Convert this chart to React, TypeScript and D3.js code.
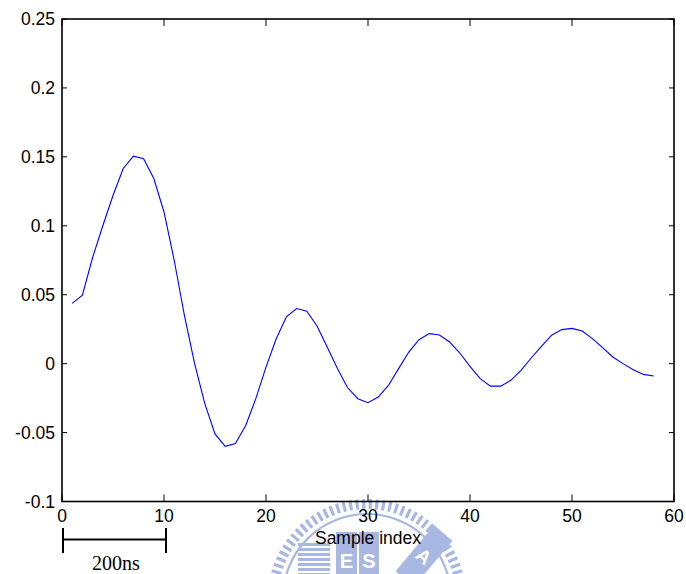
import React from "react";
import * as d3 from "d3";

// Sampled impulse response (sample index 1..58)
const sampleIndex: number[] = Array.from({ length: 58 }, (_, i) => i + 1);
const amplitude: number[] = [
  0.0437, 0.0496, 0.077, 0.1, 0.122, 0.1416, 0.1505, 0.1486, 0.1343, 0.11,
  0.075, 0.035, 0.0, -0.029, -0.051, -0.06, -0.058, -0.045, -0.0254, -0.0025,
  0.018, 0.034, 0.04, 0.038, 0.0273, 0.012, -0.0036, -0.0175, -0.0254, -0.0283,
  -0.0242, -0.0158, -0.0036, 0.0084, 0.0174, 0.0218, 0.0208, 0.0157, 0.0077, -0.002,
  -0.0109, -0.0163, -0.0163, -0.0121, -0.0049, 0.0041, 0.0126, 0.0206, 0.0247, 0.0256,
  0.0237, 0.0182, 0.0116, 0.0048, 0.0, -0.0044, -0.0078, -0.009,
];

const xTicks: number[] = [0, 10, 20, 30, 40, 50, 60];
const yTicks: number[] = [-0.1, -0.05, 0, 0.05, 0.1, 0.15, 0.2, 0.25];
const xLabel = "Sample index";
const scaleBarLabel = "200ns";
const scaleBarSpan: number[] = [0, 10];

const W = 686;
const H = 574;
const left = 62;
const right = 674;
const top = 19;
const bottom = 501.5;

const sans = "'Liberation Sans', Arial, Helvetica, sans-serif";
const serif = "'Liberation Serif', 'Times New Roman', serif";
const wm = "#a9b8e3";

function Watermark() {
  const cx = 367;
  const cy = 598;
  const dashes = d3.range(-90, 91, 4);
  const stripes = d3.range(0, 7);
  return (
    <g>
      {dashes.map((a) => (
        <rect
          key={a}
          x={cx - 1.6}
          y={cy - 99}
          width={3.2}
          height={10}
          fill={wm}
          transform={`rotate(${a} ${cx} ${cy})`}
        />
      ))}
      <circle cx={cx} cy={cy} r={84} fill="none" stroke={wm} strokeWidth={2.2} />
      {stripes.map((s) => (
        <rect key={s} x={298} y={543 + s * 5} width={32} height={3} fill={wm} />
      ))}
      <rect x={336} y={532} width={21} height={45} fill={wm} />
      <rect x={359} y={532} width={20} height={45} fill={wm} />
      <text x={346.5} y={568} textAnchor="middle" fontFamily={sans} fontWeight="bold" fontSize={20} fill="#fff">E</text>
      <text x={369} y={568} textAnchor="middle" fontFamily={sans} fontWeight="bold" fontSize={20} fill="#fff">S</text>
      <g transform="translate(424 556) rotate(40)">
        <rect x={-12} y={-30} width={24} height={60} fill={wm} />
        <text x={0} y={7} textAnchor="middle" fontFamily={sans} fontWeight="bold" fontSize={19} fill="#fff">A</text>
      </g>
    </g>
  );
}

export default function App() {
  const x = d3.scaleLinear().domain([0, 60]).range([left, right]);
  const y = d3.scaleLinear().domain([-0.1, 0.25]).range([bottom, top]);
  const line = d3
    .line<number>()
    .x((_, i) => x(sampleIndex[i]))
    .y((d) => y(d));

  const fmt = (v: number) => {
    const s = d3.format("~g")(+v.toFixed(3));
    return s.replace("−", "-");
  };

  return (
    <svg
      width={W}
      height={H}
      style={{ position: "absolute", left: 0, top: 0, background: "#fff" }}
    >
      <rect width={W} height={H} fill="#fff" />
      <Watermark />

      {/* data curve */}
      <path d={line(amplitude) || ""} fill="none" stroke="#0000ff" strokeWidth={1.1} />

      {/* axes box */}
      <rect
        x={left}
        y={top}
        width={right - left}
        height={bottom - top}
        fill="none"
        stroke="#000"
        strokeWidth={1.6}
      />

      {/* x ticks, bottom and top */}
      {xTicks.map((t) => (
        <g key={`x${t}`}>
          <line x1={x(t)} x2={x(t)} y1={bottom} y2={bottom - 7} stroke="#000" strokeWidth={1} />
          <line x1={x(t)} x2={x(t)} y1={top} y2={top + 7} stroke="#000" strokeWidth={1} />
          <text
            x={x(t)}
            y={522}
            textAnchor="middle"
            fontFamily={sans}
            fontSize={17.5}
            fill="#000"
          >
            {t}
          </text>
        </g>
      ))}

      {/* y ticks, left and right */}
      {yTicks.map((t) => (
        <g key={`y${t}`}>
          <line x1={left} x2={left + 5} y1={y(t)} y2={y(t)} stroke="#000" strokeWidth={1} />
          <line x1={right} x2={right - 5} y1={y(t)} y2={y(t)} stroke="#000" strokeWidth={1} />
          <text
            x={55}
            y={y(t) + 6}
            textAnchor="end"
            fontFamily={sans}
            fontSize={17.5}
            fill="#000"
          >
            {fmt(t)}
          </text>
        </g>
      ))}

      <text
        x={(left + right) / 2}
        y={544}
        textAnchor="middle"
        fontFamily={sans}
        fontSize={17.5}
        fill="#000"
      >
        {xLabel}
      </text>

      {/* time scale bar */}
      <g stroke="#000" strokeWidth={2}>
        <line x1={x(scaleBarSpan[0]) + 1} x2={x(scaleBarSpan[1]) + 2} y1={539.5} y2={539.5} />
        <line x1={x(scaleBarSpan[0]) + 1} x2={x(scaleBarSpan[0]) + 1} y1={528} y2={553} />
        <line x1={x(scaleBarSpan[1]) + 2} x2={x(scaleBarSpan[1]) + 2} y1={528} y2={553} />
      </g>
      <text
        x={(x(scaleBarSpan[0]) + x(scaleBarSpan[1])) / 2 + 3}
        y={570}
        textAnchor="middle"
        fontFamily={serif}
        fontSize={20}
        fill="#000"
      >
        {scaleBarLabel}
      </text>
    </svg>
  );
}
